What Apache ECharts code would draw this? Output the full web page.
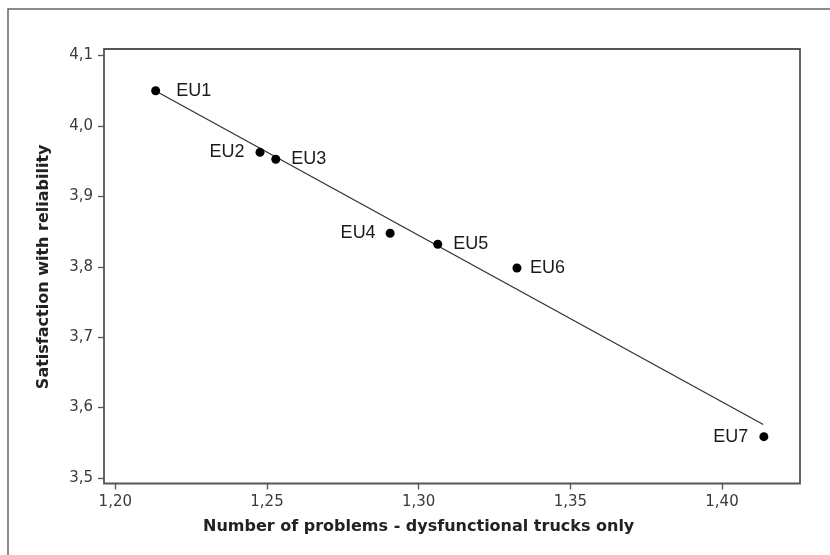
<!DOCTYPE html>
<html><head><meta charset="utf-8">
<script src="https://cdn.jsdelivr.net/npm/echarts@6/dist/echarts.min.js"></script>
<style>html,body{margin:0;padding:0;background:#fff}#c{width:830px;height:555px}</style>
</head><body><div id="c"></div>
<script>
// ---- data ----
const names = ['EU1', 'EU2', 'EU3', 'EU4', 'EU5', 'EU6', 'EU7'];
const problems = [1.2133, 1.2477, 1.2529, 1.2906, 1.3063, 1.3324, 1.4138];
const satisfaction = [4.0501, 3.9626, 3.9527, 3.8476, 3.8320, 3.7983, 3.5587];
const fitX = [1.2133, 1.4136];
const fitY = [4.0497, 3.5760];
const xTicks = [1.20, 1.25, 1.30, 1.35, 1.40];
const yTicks = [3.5, 3.6, 3.7, 3.8, 3.9, 4.0, 4.1];
const xTitle = 'Number of problems - dysfunctional trucks only';
const yTitle = 'Satisfaction with reliability';

// ---- label styling (not data) ----
const labelSide = ['right', 'left', 'right', 'left', 'right', 'right', 'left'];
const labelDist = [16, 11, 11, 10, 11, 8.5, 11];

// ---- layout: G = tick span, F = plot frame ----
const G = {left: 115.3, top: 55.6, width: 606.7, height: 422.4};
const F = {left: 104, top: 49, width: 696, height: 434.5};

const x0 = xTicks[0], x1 = xTicks[xTicks.length - 1];
const y0 = yTicks[0], y1 = yTicks[yTicks.length - 1];
const xs = (x1 - x0) / G.width, ys = (y1 - y0) / G.height;
const fxMin = x0 - (G.left - F.left) * xs;
const fxMax = x1 + (F.left + F.width - G.left - G.width) * xs;
const fyMax = y1 + (G.top - F.top) * ys;
const fyMin = y0 - (F.top + F.height - G.top - G.height) * ys;

const chart = echarts.init(document.getElementById('c'), null, {renderer: 'canvas'});
const points = names.map((n, i) => ({
  name: n,
  value: [problems[i], satisfaction[i]],
  label: {position: labelSide[i], distance: labelDist[i]}
}));
const fitLine = fitX.map((x, i) => [x, fitY[i]]);
const tickFont = {fontFamily: 'DejaVu Sans', fontSize: 15, color: '#3a3a3a'};
const titleFont = {fontFamily: 'DejaVu Sans', fontWeight: 'bold', fontSize: 16, color: '#222'};

chart.setOption({
  backgroundColor: '#fff',
  animation: false,
  grid: [
    {left: F.left, top: F.top, width: F.width, height: F.height, show: true,
     borderColor: '#555', borderWidth: 1.8, backgroundColor: 'transparent'},
    {left: G.left, top: G.top, width: G.width, height: G.height, show: false}
  ],
  xAxis: [
    {gridIndex: 0, type: 'value', min: fxMin, max: fxMax, show: false, splitLine: {show: false}},
    {
      gridIndex: 1, type: 'value', min: x0, max: x1, interval: 0.05,
      offset: F.top + F.height - (G.top + G.height),
      axisLine: {show: false},
      axisTick: {show: true, length: 6, lineStyle: {color: '#555', width: 1.3}},
      axisLabel: Object.assign({margin: 11, formatter: v => v.toFixed(2).replace('.', ',')}, tickFont),
      splitLine: {show: false},
      name: xTitle, nameLocation: 'middle', nameGap: 35, nameTextStyle: titleFont
    }
  ],
  yAxis: [
    {gridIndex: 0, type: 'value', min: fyMin, max: fyMax, show: false, splitLine: {show: false}},
    {
      gridIndex: 1, type: 'value', min: y0, max: y1, interval: 0.1,
      offset: G.left - F.left,
      axisLine: {show: false},
      axisTick: {show: true, length: 6, lineStyle: {color: '#555', width: 1.3}},
      axisLabel: Object.assign({margin: 11, formatter: v => v.toFixed(1).replace('.', ',')}, tickFont),
      splitLine: {show: false},
      name: yTitle, nameLocation: 'middle', nameGap: 52, nameRotate: 90, nameTextStyle: titleFont
    }
  ],
  graphic: [
    {type: 'rect', shape: {x: 8, y: 9, width: 900, height: 700}, z: -10,
     style: {fill: 'none', stroke: '#666', lineWidth: 1.5}}
  ],
  series: [
    {
      type: 'line', xAxisIndex: 0, yAxisIndex: 0, data: fitLine, showSymbol: false, silent: true,
      lineStyle: {color: '#333', width: 1.3}, z: 2
    },
    {
      type: 'scatter', xAxisIndex: 0, yAxisIndex: 0, data: points, symbol: 'circle', symbolSize: 9,
      itemStyle: {color: '#000', opacity: 1}, z: 3,
      label: {
        show: true, formatter: p => p.name,
        fontFamily: 'Liberation Sans', fontSize: 18, color: '#1a1a1a'
      }
    }
  ]
});
</script>
</body></html>
